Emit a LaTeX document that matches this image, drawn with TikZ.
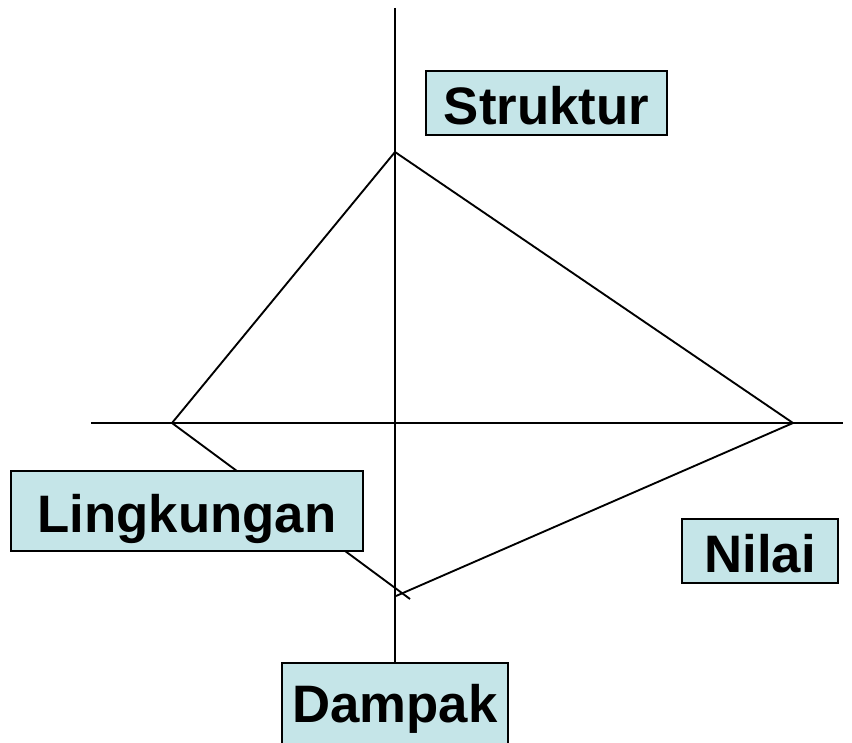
\documentclass[tikz,border=0pt]{standalone}
\usepackage{fontspec}
\setmainfont{Liberation Sans}
\tikzset{
  label box/.style={draw=black, line width=1.6pt, fill=boxcyan, inner sep=0pt,
    text height=36pt, text depth=0pt,
    font=\fontsize{45}{54}\selectfont\bfseries},
}
\definecolor{boxcyan}{HTML}{C5E5E8}
\begin{document}
\begin{tikzpicture}[x=0.03cm,y=0.03cm,line width=1.6pt]
\useasboundingbox (0,0) rectangle (852,742);
% axes
\coordinate (ytop) at (395,734);
\coordinate (ybot) at (395,77);
\coordinate (xleft) at (91,319);
\coordinate (xright) at (843,319);
\draw (ytop) -- (ybot);
\draw (xleft) -- (xright);
% corners of the kite
\coordinate (top) at (395,590);
\coordinate (left) at (172,319);
\coordinate (right) at (793,319);
\coordinate (lowA) at (410,143);
\coordinate (lowB) at (396,146);
\draw (left) -- (top) -- (right);
\draw (left) -- (lowA);
\draw (right) -- (lowB);
% labels
\node[label box, minimum width=7.23cm, minimum height=1.92cm] (struktur) at (546.5,639) {Struktur};
\node[label box, minimum width=10.56cm, minimum height=2.4cm] (lingkungan) at (187,231) {Lingkungan};
\node[label box, minimum width=4.68cm, minimum height=1.92cm] (nilai) at (760,191) {Nilai};
% runs off the bottom edge
\node[label box, text depth=12pt, minimum width=6.78cm, minimum height=2.7cm] (dampak) at (395,34) {Dampak};
\end{tikzpicture}
\end{document}
